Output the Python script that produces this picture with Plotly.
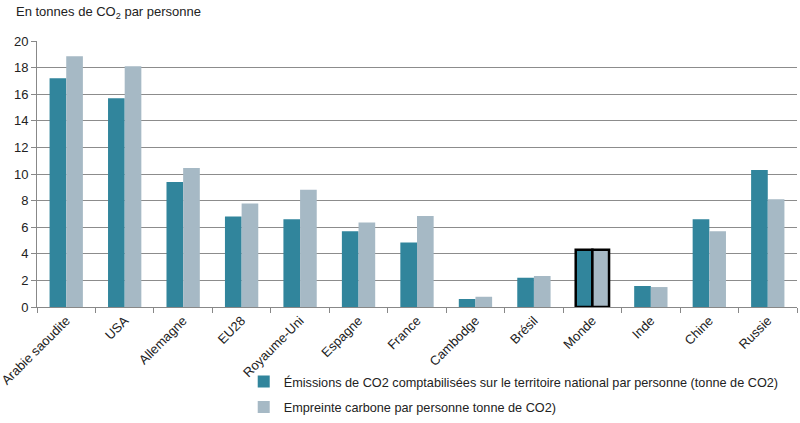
import plotly.graph_objects as go

categories = ["Arabie saoudite", "USA", "Allemagne", "EU28", "Royaume-Uni", "Espagne",
              "France", "Cambodge", "Brésil", "Monde", "Inde", "Chine", "Russie"]
territorial = [17.2, 15.7, 9.4, 6.8, 6.6, 5.7, 4.85, 0.6, 2.2, 4.3, 1.58, 6.6, 10.3]
footprint = [18.85, 18.1, 10.45, 7.78, 8.82, 6.35, 6.85, 0.77, 2.33, 4.3, 1.5, 5.7, 8.1]
yticks = [0, 2, 4, 6, 8, 10, 12, 14, 16, 18, 20]
highlight = "Monde"

lw = [2.5 if c == highlight else 0 for c in categories]

fig = go.Figure()
fig.add_bar(x=categories, y=territorial,
            name="Émissions de CO2 comptabilisées sur le territoire national par personne (tonne de CO2)",
            marker=dict(color="#31859C", line=dict(color="black", width=lw)),
            legendgroup="a")
fig.add_bar(x=categories, y=footprint,
            name="Empreinte carbone par personne tonne de CO2)",
            marker=dict(color="#A6B9C5", line=dict(color="black", width=lw)),
            legendgroup="b")

fig.update_layout(
    width=800, height=423,
    margin=dict(l=37, r=3, t=41, b=116, autoexpand=False),
    plot_bgcolor="white", paper_bgcolor="white",
    font=dict(family="Liberation Sans, Arial, sans-serif", size=13, color="#222"),
    barmode="group", bargap=0.43, bargroupgap=0,
    showlegend=True,
    legend=dict(orientation="v", x=0.272, xanchor="left", y=-0.225, yanchor="top",
                font=dict(size=12.7), tracegroupgap=6, itemwidth=30,
                bgcolor="rgba(0,0,0,0)"),
    xaxis=dict(tickangle=-45, showline=True, linecolor="#888", linewidth=1,
               ticks="outside", tickson="boundaries", tickcolor="#888", ticklen=5,
               tickfont=dict(size=13), automargin=False),
    yaxis=dict(range=[0, 20], tickvals=yticks, showgrid=True, gridcolor="#8c8c8c",
               gridwidth=1, showline=True, linecolor="#888", ticks="outside",
               tickcolor="#888", ticklen=5, zeroline=False, tickfont=dict(size=13),
               automargin=False),
    annotations=[dict(text="En tonnes de CO<sub>2</sub> par personne", xref="paper", yref="paper",
                      x=-0.03, y=1.0, xanchor="left", yanchor="bottom", yshift=18,
                      showarrow=False, font=dict(size=13))]
)

fig.write_html("out.html", config={"displayModeBar": False},
               post_script="document.body.style.margin='0';")
